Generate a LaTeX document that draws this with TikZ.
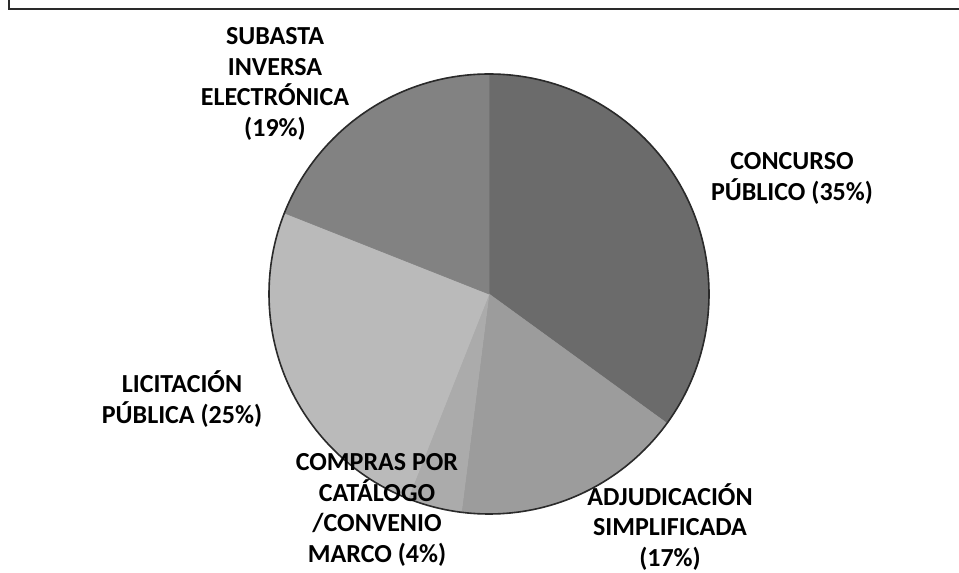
\documentclass[tikz,border=0pt]{standalone}
\usepackage{fontspec}
\newfontfamily\lblfont{Carlito}[BoldFont=* Bold]
\definecolor{cConc}{HTML}{6B6B6B}
\definecolor{cSub}{HTML}{828282}
\definecolor{cLic}{HTML}{BABABA}
\definecolor{cComp}{HTML}{ABABAB}
\definecolor{cAdj}{HTML}{9C9C9C}
\definecolor{cLine}{HTML}{2A2A2A}
\tikzset{
  lbl/.style={inner sep=0pt, align=center, text=black,
    font=\lblfont\bfseries\fontsize{26}{30.5}\selectfont},
  slice/.style={fill=#1, draw=#1, line width=0.6pt, line join=round},
  frameline/.style={draw=cLine, line width=2pt},
}
\begin{document}
\begin{tikzpicture}[x=1pt,y=1pt]
\useasboundingbox (0,0) rectangle (959,573);
\fill[white] (0,0) rectangle (959,573);
\draw[frameline] (9,573) -- (9,564) -- (959,564);
\coordinate (C) at (489,279);
\path[slice=cConc] (C) -- ++(90:220pt) arc[start angle=90, end angle=-36, radius=220pt] -- cycle;
\path[slice=cAdj] (C) -- ++(-36:220pt) arc[start angle=-36, end angle=-97.2, radius=220pt] -- cycle;
\path[slice=cComp] (C) -- ++(-97.2:220pt) arc[start angle=-97.2, end angle=-111.6, radius=220pt] -- cycle;
\path[slice=cLic] (C) -- ++(-111.6:220pt) arc[start angle=-111.6, end angle=-201.6, radius=220pt] -- cycle;
\path[slice=cSub] (C) -- ++(-201.6:220pt) arc[start angle=-201.6, end angle=-270, radius=220pt] -- cycle;
\draw[cLine, line width=1.6pt] (C) circle[radius=220pt];
\node[lbl] (sub) at (275,489) {SUBASTA\\INVERSA\\ELECTRÓNICA\\(19\%)};
\node[lbl] (conc) at (792,394.5) {CONCURSO\\PÚBLICO (35\%)};
\node[lbl] (lic) at (182,174) {LICITACIÓN\\PÚBLICA (25\%)};
\node[lbl] (comp) at (377,63) {COMPRAS POR\\CATÁLOGO\\/CONVENIO\\MARCO (4\%)};
\node[lbl] (adj) at (670,46) {ADJUDICACIÓN\\SIMPLIFICADA\\(17\%)};
\end{tikzpicture}
\end{document}
